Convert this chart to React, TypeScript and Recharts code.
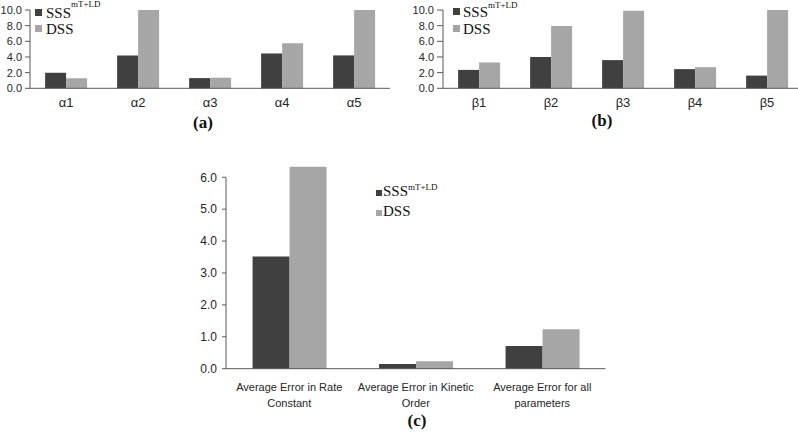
import { BarChart, Bar, XAxis, YAxis, Legend, ReferenceLine } from "recharts"

const SANS = "'Liberation Sans', Arial, sans-serif"
const SERIF = "'Liberation Serif', 'Times New Roman', serif"
const AXIS = "#595959"
const INK = "#262626"

const SERIES_NAMES = ["SSS", "DSS"]
const SERIES_SUP = ["mT+LD", ""]
const SERIES_COLORS = ["#404040", "#a6a6a6"]

const ALPHA_LABELS = ["α1", "α2", "α3", "α4", "α5"]
const ALPHA_SSS = [2.0, 4.2, 1.3, 4.45, 4.2]
const ALPHA_DSS = [1.28, 10.0, 1.35, 5.75, 10.0]

const BETA_LABELS = ["β1", "β2", "β3", "β4", "β5"]
const BETA_SSS = [2.35, 4.0, 3.6, 2.45, 1.62]
const BETA_DSS = [3.3, 7.95, 9.9, 2.7, 10.0]

const AVG_LABELS = [
  "Average Error in Rate\nConstant",
  "Average Error in Kinetic\nOrder",
  "Average Error for all\nparameters",
]
const AVG_SSS = [3.52, 0.15, 0.71]
const AVG_DSS = [6.33, 0.23, 1.24]

const TICKS_TOP = [0, 2, 4, 6, 8, 10]
const TICKS_BOTTOM = [0, 1, 2, 3, 4, 5, 6]

const toRows = (labels: string[], sss: number[], dss: number[]) =>
  labels.map((label, i) => ({ label, sss: sss[i], dss: dss[i] }))

// positions of the category boundaries (Excel puts the x ticks between groups)
const bounds = (labels: string[]) => labels.map((_, i) => i).concat(labels.length)

const fmt = (v: number) => v.toFixed(1)

type LegendOpts = {
  left: number
  top: number
  rowH: number
  box: number
  gap: number
  lift: number
  supShift: number
}

const LegendBlock = ({ o }: { o: LegendOpts }) => (
  <div
    style={{
      fontFamily: SERIF,
      fontSize: 15,
      lineHeight: `${o.rowH}px`,
      color: "#111",
      whiteSpace: "nowrap",
    }}
  >
    {SERIES_NAMES.map((name, i) => (
      <div key={name}>
        <span
          style={{
            display: "inline-block",
            width: o.box,
            height: o.box,
            marginRight: o.gap,
            marginBottom: o.lift,
            background: SERIES_COLORS[i],
          }}
        />
        {name}
        {SERIES_SUP[i] && (
          <span style={{ fontSize: 9, position: "relative", top: -o.supShift }}>
            {SERIES_SUP[i]}
          </span>
        )}
      </div>
    ))}
  </div>
)

const Caption = ({ text, cx, top }: { text: string; cx: number; top: number }) => (
  <div
    style={{
      position: "absolute",
      left: cx - 30,
      width: 60,
      top,
      textAlign: "center",
      fontFamily: SERIF,
      fontWeight: "bold",
      fontSize: 17,
      lineHeight: "16px",
      color: "#111",
    }}
  >
    {text}
  </div>
)

const WrapTick = (props: any) => {
  const { x, y, payload } = props
  const lines = String(payload.value).split("\n")
  return (
    <text x={x} y={y} textAnchor="middle" fill={INK} fontSize={11} fontFamily={SANS}>
      {lines.map((line, i) => (
        <tspan key={i} x={x} dy={i === 0 ? "0.71em" : 16}>
          {line}
        </tspan>
      ))}
    </text>
  )
}

type SmallProps = {
  labels: string[]
  sss: number[]
  dss: number[]
  left: number
  width: number
  yWidth: number
  tickSize: number
  legend: LegendOpts
}

function SmallPanel({ labels, sss, dss, left, width, yWidth, tickSize, legend }: SmallProps) {
  const data = toRows(labels, sss, dss)
  return (
    <div style={{ position: "absolute", left, top: 0 }}>
      <BarChart
        width={width}
        height={112}
        data={data}
        margin={{ top: 10, right: width - yWidth - 360, bottom: 0, left: 0 }}
        barCategoryGap="21%"
        barGap={0}
      >
        <XAxis
          xAxisId={0}
          type="number"
          domain={[0, labels.length]}
          ticks={bounds(labels)}
          allowDataOverflow
          interval={0}
          height={4}
          tickSize={4}
          tick={false}
          axisLine={{ stroke: AXIS }}
          tickLine={{ stroke: AXIS }}
        />
        <XAxis
          xAxisId="cat"
          dataKey="label"
          height={19.7}
          interval={0}
          axisLine={false}
          tickLine={false}
          tickSize={3}
          tickMargin={2.2}
          tick={{ fill: INK, fontSize: 13, fontFamily: SANS }}
        />
        <YAxis
          width={yWidth}
          domain={[0, 10]}
          ticks={TICKS_TOP}
          interval={0}
          tickFormatter={fmt}
          tickSize={tickSize}
          tickMargin={3}
          axisLine={{ stroke: AXIS }}
          tickLine={{ stroke: AXIS }}
          tick={{ fill: INK, fontSize: 11, fontFamily: SANS }}
        />
        <Legend
          layout="vertical"
          align="center"
          verticalAlign="middle"
          wrapperStyle={{ left: legend.left, top: legend.top, width: "auto" }}
          content={() => <LegendBlock o={legend} />}
        />
        <Bar xAxisId="cat" dataKey="sss" fill={SERIES_COLORS[0]} isAnimationActive={false} />
        <Bar xAxisId="cat" dataKey="dss" fill={SERIES_COLORS[1]} isAnimationActive={false} />
      </BarChart>
    </div>
  )
}

function AveragePanel() {
  const data = toRows(AVG_LABELS, AVG_SSS, AVG_DSS)
  const legend: LegendOpts = { left: 186, top: 31.6, rowH: 18.7, box: 6, gap: 1, lift: 0, supShift: 5.5 }
  return (
    <div style={{ position: "absolute", left: 190, top: 150 }}>
      <BarChart
        width={420}
        height={265}
        data={data}
        margin={{ top: 14.5, right: 4.5, bottom: 0, left: 0 }}
        barCategoryGap="21%"
        barGap={0}
      >
        <XAxis
          xAxisId={0}
          type="number"
          domain={[0, AVG_LABELS.length]}
          ticks={bounds(AVG_LABELS)}
          allowDataOverflow
          interval={0}
          height={5}
          tickSize={4}
          tick={false}
          axisLine={{ stroke: AXIS }}
          tickLine={{ stroke: AXIS }}
        />
        <XAxis
          xAxisId="cat"
          dataKey="label"
          height={41.3}
          interval={0}
          axisLine={false}
          tickLine={false}
          tickSize={6}
          tickMargin={3.5}
          tick={WrapTick}
        />
        <YAxis
          width={36}
          domain={[0, 6.4]}
          ticks={TICKS_BOTTOM}
          interval={0}
          tickFormatter={fmt}
          tickSize={4}
          tickMargin={5}
          axisLine={false}
          tickLine={{ stroke: AXIS }}
          tick={{ fill: INK, fontSize: 12, fontFamily: SANS }}
        />
        {/* the value axis line stops at 6.0 while the tallest bar runs past it */}
        <ReferenceLine
          xAxisId={0}
          segment={[
            { x: 0, y: 0 },
            { x: 0, y: 6 },
          ]}
          stroke={AXIS}
        />
        <Legend
          layout="vertical"
          align="center"
          verticalAlign="middle"
          wrapperStyle={{ left: legend.left, top: legend.top, width: "auto" }}
          content={() => <LegendBlock o={legend} />}
        />
        <Bar xAxisId="cat" dataKey="sss" fill={SERIES_COLORS[0]} isAnimationActive={false} />
        <Bar xAxisId="cat" dataKey="dss" fill={SERIES_COLORS[1]} isAnimationActive={false} />
      </BarChart>
    </div>
  )
}

export default function App() {
  return (
    <div
      style={{
        position: "absolute",
        left: 0,
        top: 0,
        width: 798,
        height: 442,
        overflow: "hidden",
        background: "#fff",
      }}
    >
      <SmallPanel
        labels={ALPHA_LABELS}
        sss={ALPHA_SSS}
        dss={ALPHA_DSS}
        left={0}
        width={400}
        yWidth={30}
        tickSize={5}
        legend={{ left: 35, top: 7.4, rowH: 13.7, box: 7, gap: 4, lift: 2.6, supShift: 11 }}
      />
      <SmallPanel
        labels={BETA_LABELS}
        sss={BETA_SSS}
        dss={BETA_DSS}
        left={400}
        width={410}
        yWidth={43}
        tickSize={6}
        legend={{ left: 53, top: 5.4, rowH: 15, box: 7, gap: 3, lift: 2.3, supShift: 9 }}
      />
      <AveragePanel />
      <Caption text="(a)" cx={203} top={114.8} />
      <Caption text="(b)" cx={602} top={113.3} />
      <Caption text="(c)" cx={417} top={413.3} />
    </div>
  )
}
